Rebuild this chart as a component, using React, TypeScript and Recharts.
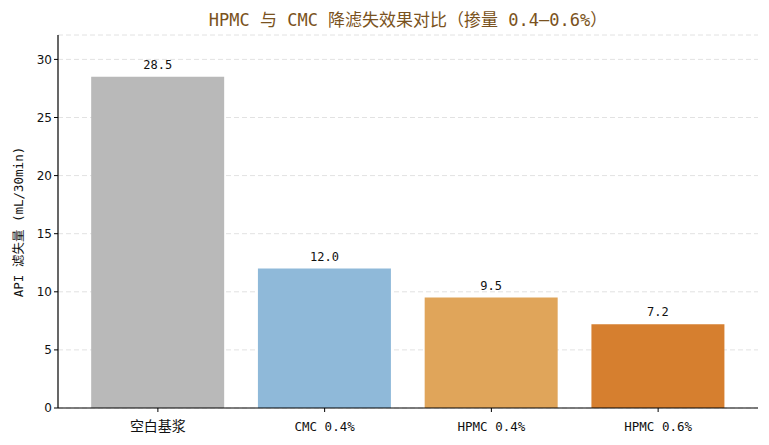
import React from 'react';
import { BarChart, Bar, XAxis, YAxis, CartesianGrid, Cell, LabelList, Label } from 'recharts';

const categories = ['空白基浆', 'CMC 0.4%', 'HPMC 0.4%', 'HPMC 0.6%'];
const filtrationLoss = [28.5, 12.0, 9.5, 7.2];
const barColors = ['#b9b9b9', '#8fb9d9', '#e0a55a', '#d67f2f'];
const yTicks = [0, 5, 10, 15, 20, 25, 30];

const data = categories.map((name, i) => ({ name, value: filtrationLoss[i] }));

const MONO = '"DejaVu Sans Mono", "Noto Sans CJK SC", monospace';
const CJK = '"Noto Sans CJK SC", "DejaVu Sans Mono", sans-serif';

const XTick = (props: any) => {
  const { x, y, payload } = props;
  const isCjk = /[\u4e00-\u9fff]/.test(payload.value);
  return (
    <text x={x} y={y + 17} textAnchor="middle" fontSize={isCjk ? 14 : 12.5} fontFamily={isCjk ? CJK : MONO} fill="#111">
      {payload.value}
    </text>
  );
};

export default function App() {
  return (
    <div style={{ position: 'absolute', left: 0, top: 0, width: 769, height: 445, background: '#fff' }}>
      <div style={{ position: 'absolute', left: 58, width: 700, top: 6, textAlign: 'center', fontFamily: MONO, fontSize: 17, color: '#7a5220', whiteSpace: 'nowrap' }}>
        HPMC 与 CMC 降滤失效果对比（掺量 0.4–0.6%）
      </div>
      <BarChart width={769} height={445} data={data} margin={{ top: 35, right: 11, bottom: 0, left: 0 }} barCategoryGap="10%">
        <CartesianGrid vertical={false} stroke="#e2e2e2" strokeDasharray="5 3" />
        <XAxis dataKey="name" height={37} padding={{ left: 16.5, right: 16.5 }} tick={<XTick />} tickLine={{ stroke: '#000' }} axisLine={{ stroke: '#000', strokeWidth: 1.2 }} tickSize={4} interval={0} />
        <YAxis width={58} domain={[0, 32.1]} ticks={yTicks} allowDataOverflow tick={{ fill: '#111', fontSize: 12, fontFamily: '"DejaVu Sans", sans-serif' }} tickLine={{ stroke: '#000' }} axisLine={{ stroke: '#000', strokeWidth: 1.2 }} tickSize={4}>
          <Label
            content={() => (
              <text x={18} y={222} transform="rotate(-90 18 222)" textAnchor="middle" dominantBaseline="central" fontSize={12.5} fontFamily={MONO} fill="#111">
                API 滤失量 (mL/30min)
              </text>
            )}
          />
        </YAxis>
        <Bar dataKey="value" isAnimationActive={false}>
          {data.map((d, i) => (
            <Cell key={d.name} fill={barColors[i]} />
          ))}
          <LabelList dataKey="value" position="top" offset={8} formatter={(v: any) => Number(v).toFixed(1)} style={{ fontSize: 12, fontFamily: MONO, fill: '#111' }} />
        </Bar>
      </BarChart>
    </div>
  );
}
